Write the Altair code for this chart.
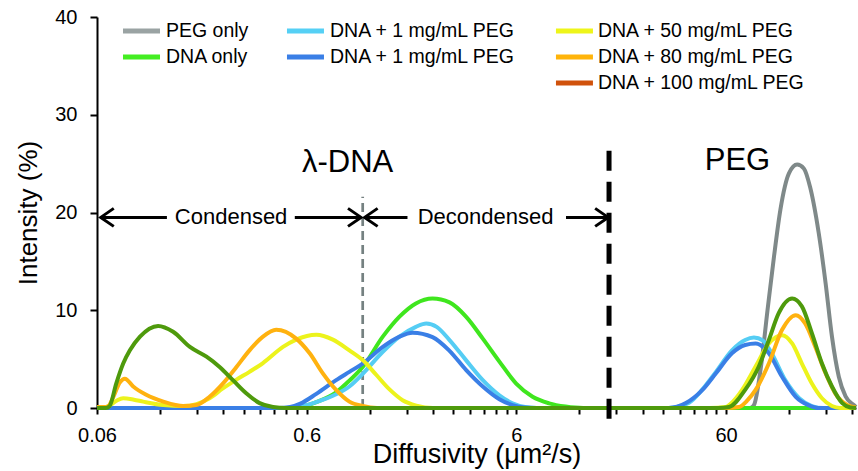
import altair as alt
import pandas as pd

FONT = "Liberation Sans"

# ---------------- data ----------------
peg_only_x = [0.06, 70, 78, 81.5, 88, 94.6, 101.6, 109, 119.7, 131, 141, 151, 166, 179, 192, 207, 223, 244, 250]
peg_only_y = [0, 0, 0, 0.3, 4.2, 10.0, 15.5, 20.3, 24.0, 24.9, 24.5, 22.6, 17.9, 12.8, 7.3, 3.2, 1.2, 0.3, 0.1]

dna_only_x = [0.06, 0.5, 0.56, 0.667, 0.829, 0.959, 1.11, 1.384, 1.663, 1.99, 2.39, 2.88, 3.45, 4.15, 4.98, 5.99, 7.17, 8.6, 10.3, 12.5, 250]
dna_only_y = [0, 0, 0.1, 0.6, 1.6, 2.8, 4.2, 7.3, 9.35, 10.7, 11.2, 10.8, 9.35, 7.1, 4.75, 2.5, 1.15, 0.48, 0.15, 0, 0]

dna1a_x = [0.06, 0.5, 0.6, 0.667, 0.829, 0.959, 1.11, 1.384, 1.663, 1.99, 2.23, 2.5, 2.88, 3.45, 4.15, 4.98, 5.75, 6.6, 7.5,
           32, 40, 46.3, 53.7, 64, 74, 81.5, 90, 99, 115, 134, 154, 175, 250]
dna1a_y = [0, 0, 0.3, 0.6, 1.4, 2.2, 3.5, 5.75, 7.3, 8.3, 8.65, 8.3, 6.95, 4.9, 2.85, 1.3, 0.48, 0.1, 0,
           0, 0.55, 1.9, 3.7, 5.9, 6.95, 7.2, 6.9, 5.6, 2.85, 1.0, 0.2, 0, 0]

dna1b_x = [0.06, 0.44, 0.5, 0.56, 0.667, 0.829, 0.959, 1.11, 1.384, 1.663, 1.92, 2.39, 2.88, 3.45, 4.15, 4.98, 5.75, 6.6, 7.5,
           32, 38.6, 46.3, 53.7, 64, 74, 83, 96, 111, 129, 148, 166, 250]
dna1b_y = [0, 0, 0.1, 0.45, 1.45, 2.85, 3.7, 4.55, 6.25, 7.3, 7.7, 7.25, 5.85, 3.9, 2.2, 0.9, 0.3, 0.05, 0,
           0, 0.5, 1.85, 3.55, 5.6, 6.45, 6.6, 5.6, 3.2, 1.15, 0.3, 0, 0]

dna50_x = [0.06, 0.066, 0.07, 0.075, 0.08, 0.09, 0.0997, 0.1243, 0.1545, 0.179, 0.2065, 0.239, 0.2775, 0.3202, 0.3712,
           0.4626, 0.5348, 0.6672, 0.8, 0.959, 1.11, 1.287, 1.49, 1.72, 2.0, 2.4,
           50, 59.7, 65, 71.6, 83, 96, 111, 124, 138, 154, 172, 192, 210, 250]
dna50_y = [0.1, 0.1, 0.35, 0.8, 1.0, 0.85, 0.65, 0.3, 0.2, 0.4, 1.0, 2.0, 2.9, 3.7, 4.6,
           6.25, 7.0, 7.5, 7.0, 5.9, 4.9, 3.4, 1.9, 0.8, 0.25, 0,
           0, 0.1, 0.7, 1.85, 4.25, 6.6, 7.45, 6.6, 4.55, 2.5, 1.0, 0.2, 0, 0]

dna80_x = [0.06, 0.066, 0.068, 0.072, 0.077, 0.0815, 0.0893, 0.103, 0.1243, 0.1545, 0.1789, 0.2065, 0.239, 0.2775,
           0.3202, 0.3712, 0.4292, 0.5348, 0.62, 0.7164, 0.8288, 0.9591, 1.11, 1.3,
           60, 69, 76, 83, 96, 111, 129, 143, 160, 179, 199, 227, 250]
dna80_y = [0.1, 0.1, 0.2, 1.2, 2.6, 3.0, 2.2, 1.35, 0.65, 0.2, 0.3, 1.15, 2.5, 4.2,
           5.9, 7.3, 8.0, 7.1, 5.6, 3.55, 1.85, 0.65, 0.2, 0,
           0, 0.1, 0.8, 1.85, 4.55, 8.0, 9.5, 8.65, 6.25, 3.55, 1.5, 0.3, 0.05]

dna100_x = [0.06, 0.066, 0.0689, 0.0741, 0.08, 0.0861, 0.0962, 0.1174, 0.1384, 0.1664, 0.1997, 0.2307, 0.2669, 0.3089,
            0.3578, 0.4146, 0.48,
            55, 62, 74, 86, 96, 107, 124, 138, 154, 172, 192, 215, 235, 250]
dna100_y = [0, 0, 0.2, 2.5, 4.55, 5.9, 7.3, 8.4, 7.8, 6.25, 5.25, 4.2, 2.85, 1.5,
            0.5, 0.1, 0,
            0, 0.1, 1.85, 4.25, 6.95, 9.7, 11.2, 10.4, 7.65, 4.55, 2.2, 0.5, 0.05, 0]

# drawing order: bottom to top
series = [
    ("PEG only", peg_only_x, peg_only_y, "#7f8989"),
    ("DNA only", dna_only_x, dna_only_y, "#3fe61e"),
    ("DNA + 1 mg/mL PEG (light)", dna1a_x, dna1a_y, "#55cdf4"),
    ("DNA + 1 mg/mL PEG", dna1b_x, dna1b_y, "#3a7fe6"),
    ("DNA + 50 mg/mL PEG", dna50_x, dna50_y, "#ecf31c"),
    ("DNA + 80 mg/mL PEG", dna80_x, dna80_y, "#ffb20f"),
    ("DNA + 100 mg/mL PEG", dna100_x, dna100_y, "#4e9a0c"),
]

legend_labels = ["PEG only", "DNA only", "DNA + 1 mg/mL PEG", "DNA + 1 mg/mL PEG",
                 "DNA + 50 mg/mL PEG", "DNA + 80 mg/mL PEG", "DNA + 100 mg/mL PEG"]
legend_colors = ["#9aa3a3", "#44ee22", "#55d0f5", "#3a7fe6", "#eef51a", "#ffb40a", "#d0520c"]
legend_col = [0, 0, 1, 1, 2, 2, 2]
legend_row = [0, 1, 0, 1, 0, 1, 2]

x_ticks_major = [0.06, 0.6, 6, 60]
x_ticks_all = [0.06, 0.12, 0.18, 0.24, 0.3, 0.36, 0.42, 0.48, 0.54,
               0.6, 1.2, 1.8, 2.4, 3, 3.6, 4.2, 4.8, 5.4,
               6, 12, 18, 24, 30, 36, 42, 48, 54,
               60, 120, 180, 240]
y_ticks = [0, 10, 20, 30, 40]

# ---------------- layout ----------------
W, H = 759, 391
XDOM = [0.06, 250]
YDOM = [0, 40]


def px2x(px):
    return 0.06 * 10 ** ((px - 97) / 209.7)


def px2y(py):
    return (408 - py) / 391 * 40


xs = alt.Scale(type="log", domain=XDOM, nice=False)
ys = alt.Scale(domain=YDOM, nice=False, zero=False)

x_axis = alt.Axis(
    values=x_ticks_all, format="~g",
    labelExpr="indexof([0.06, 0.6, 6, 60], datum.value) >= 0 ? datum.label : ''",
    title="Diffusivity (\u03bcm\u00b2/s)", tickSize=6, labelPadding=11, labelFlush=False,
    labelOverlap=False, grid=False, titleFontSize=27, titlePadding=-4,
)
y_axis = alt.Axis(
    values=y_ticks, title="Intensity (%)", tickSize=7, labelPadding=13, labelFlush=False,
    grid=False, titleFontSize=26, titlePadding=13,
)


def X(field="x"):
    return alt.X(f"{field}:Q", scale=xs, axis=x_axis)


def Y(field="y"):
    return alt.Y(f"{field}:Q", scale=ys, axis=y_axis)


layers = []

# dashed separators
gray_sep = pd.DataFrame({"x": [1.11], "y": [0], "y2": [21.6]})
layers.append(alt.Chart(gray_sep).mark_rule(color="#758181", strokeWidth=2.7, strokeDash=[9, 5]).encode(
    x=X(), y=Y(), y2="y2:Q"))

# curves
for name, xv, yv, col in series:
    df = pd.DataFrame({"x": xv, "y": yv})
    layers.append(alt.Chart(df).mark_line(color=col, strokeWidth=4, interpolate="monotone").encode(
        x=X(), y=Y()))

black_sep = pd.DataFrame({"x": [16.6], "y": [-1.1], "y2": [27.0]})
layers.append(alt.Chart(black_sep).mark_rule(color="black", strokeWidth=5, strokeDash=[20, 11]).encode(
    x=X(), y=Y(), y2="y2:Q"))

# arrows
arrow_y = 19.5
shafts = pd.DataFrame({"x": [0.0625, 0.5266, 1.133, 10.35], "x2": [0.1293, 1.09, 1.815, 16.45],
                       "y": [arrow_y] * 4})
layers.append(alt.Chart(shafts).mark_rule(color="black", strokeWidth=3).encode(x=X(), x2="x2:Q", y=Y()))
left_heads = pd.DataFrame({"x": [0.0625, 1.133], "y": [arrow_y] * 2})
right_heads = pd.DataFrame({"x": [1.09, 16.45], "y": [arrow_y] * 2})
layers.append(alt.Chart(left_heads).mark_point(shape="M1.45,-1L0,0L1.45,1", size=324, filled=False,
                                               color="black", strokeWidth=3, opacity=1).encode(x=X(), y=Y()))
layers.append(alt.Chart(right_heads).mark_point(shape="M-1.45,-1L0,0L-1.45,1", size=324, filled=False,
                                                color="black", strokeWidth=3, opacity=1).encode(x=X(), y=Y()))

# annotation texts
ann = pd.DataFrame({"x": [0.2616, 4.28], "y": [arrow_y] * 2, "t": ["Condensed", "Decondensed"]})
layers.append(alt.Chart(ann).mark_text(font=FONT, fontSize=22, baseline="middle", align="center",
                                       color="black").encode(x=X(), y=Y(), text="t:N"))
big = pd.DataFrame({"x": [0.94, 68], "y": [25.1, 25.3], "t": ["\u03bb-DNA", "PEG"]})
layers.append(alt.Chart(big).mark_text(font=FONT, fontSize=31, baseline="middle", align="center",
                                       color="black").encode(x=X(), y=Y(), text="t:N"))

# legend (manual, 3 columns)
col_px = [(123, 160, 166), (287, 324, 330), (556, 593, 598)]
row_px = [31, 57, 83]
leg = pd.DataFrame({
    "label": legend_labels,
    "color": legend_colors,
    "x": [px2x(col_px[c][0]) for c in legend_col],
    "x2": [px2x(col_px[c][1]) for c in legend_col],
    "xt": [px2x(col_px[c][2]) for c in legend_col],
    "y": [px2y(row_px[r]) for r in legend_row],
})
layers.append(alt.Chart(leg).mark_rule(strokeWidth=5).encode(
    x=X(), x2="x2:Q", y=Y(), color=alt.Color("color:N", scale=None)))
layers.append(alt.Chart(leg).mark_text(font=FONT, fontSize=19.5, align="left", baseline="middle",
                                       color="black").encode(x=X("xt"), y=Y(), text="label:N"))

chart = alt.layer(*layers).properties(
    width=W, height=H, autosize="none",
    padding={"left": 97, "top": 17, "right": 2, "bottom": 63},
).configure_view(stroke=None).configure_axis(
    domainColor="black", domainWidth=2, tickColor="black", tickWidth=2,
    labelFont=FONT, labelFontSize=20, labelColor="black",
    titleFont=FONT, titleFontWeight="normal", titleColor="black",
)

chart.save("out.html", embed_options={"renderer": "svg", "actions": False})
